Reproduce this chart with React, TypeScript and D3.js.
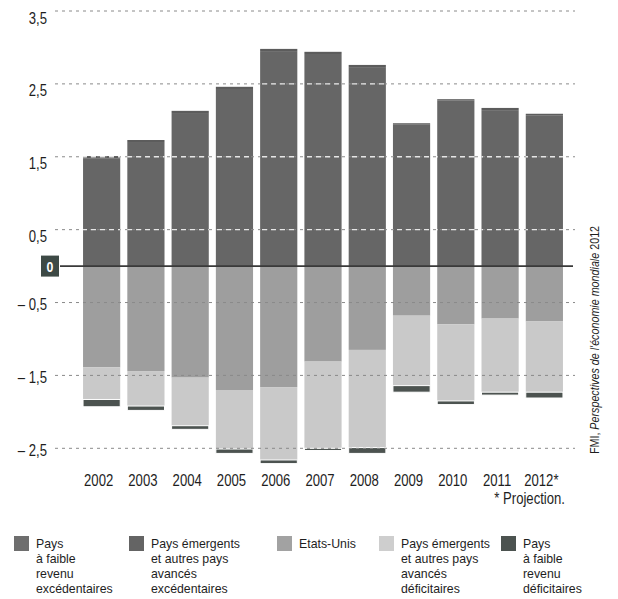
import React from "react";
import * as d3 from "d3";

const years = ["2002", "2003", "2004", "2005", "2006", "2007", "2008", "2009", "2010", "2011", "2012*"];
// Positive side (stacked upward from 0)
const emergentsExcedentaires = [1.48, 1.69, 2.10, 2.43, 2.95, 2.91, 2.72, 1.94, 2.27, 2.14, 2.07];
const faibleRevenuExcedentaires = [0.03, 0.04, 0.03, 0.03, 0.03, 0.03, 0.04, 0.02, 0.02, 0.03, 0.02];
// Negative side (stacked downward from 0)
const etatsUnis = [-1.39, -1.44, -1.53, -1.70, -1.66, -1.31, -1.15, -0.68, -0.80, -0.72, -0.76];
const emergentsDeficitaires = [-0.44, -0.48, -0.66, -0.81, -1.00, -1.19, -1.34, -0.96, -1.05, -1.01, -0.97];
const faibleRevenuDeficitaires = [-0.10, -0.06, -0.05, -0.06, -0.05, -0.03, -0.08, -0.09, -0.05, -0.04, -0.08];

const tickValues = [3.5, 2.5, 1.5, 0.5, -0.5, -1.5, -2.5];
const tickLabels = ["3,5", "2,5", "1,5", "0,5", "– 0,5", "– 1,5", "– 2,5"];

const legendItems = [
  { lines: ["Pays", "à faible", "revenu", "excédentaires"], color: "#6e6e6e" },
  { lines: ["Pays émergents", "et autres pays", "avancés", "excédentaires"], color: "#646464" },
  { lines: ["Etats-Unis"], color: "#a2a2a2" },
  { lines: ["Pays émergents", "et autres pays", "avancés", "déficitaires"], color: "#cecece" },
  { lines: ["Pays", "à faible", "revenu", "déficitaires"], color: "#4c5350" },
];

const FONT = "'Liberation Sans', Arial, sans-serif";

function CText({ x, y, size, anchor = "start", children, fill = "#1e1e1e", weight = "normal", sx = 0.82 }: any) {
  return (
    <text transform={`translate(${x},${y}) scale(${sx},1)`} textAnchor={anchor} fontSize={size} fill={fill} fontWeight={weight}>
      {children}
    </text>
  );
}

export default function App() {
  const W = 618, H = 599;
  const x = d3.scaleBand<string>().domain(years).range([79.5, 566.5]).paddingInner(0.16).paddingOuter(0.08);
  const y = d3.scaleLinear().domain([-2.5, 3.5]).range([448.3, 11]);
  const bw = x.bandwidth();

  const posSeries = [
    { values: emergentsExcedentaires, color: "#666666" },
    { values: faibleRevenuExcedentaires, color: "#5c5c5c" },
  ];
  const negSeries = [
    { values: etatsUnis, color: "#9e9e9e" },
    { values: emergentsDeficitaires, color: "#c9c9c9" },
    { values: faibleRevenuDeficitaires, color: "#4c5350" },
  ];

  const rects: any[] = [];
  years.forEach((yr, i) => {
    let acc = 0;
    posSeries.forEach((s, k) => {
      const v0 = acc, v1 = acc + s.values[i];
      acc = v1;
      rects.push({ key: `p${i}-${k}`, x: x(yr)!, y: y(v1), h: y(v0) - y(v1), color: s.color, pos: true });
    });
    acc = 0;
    negSeries.forEach((s, k) => {
      const v0 = acc, v1 = acc + s.values[i];
      acc = v1;
      rects.push({ key: `n${i}-${k}`, x: x(yr)!, y: y(v0), h: y(v1) - y(v0), color: s.color, pos: false, sep: k === 2 });
    });
  });

  const gx0 = 55, gx1 = 575;

  return (
    <svg width={W} height={H} style={{ position: "absolute", left: 0, top: 0, background: "#fff" }} fontFamily={FONT}>
      <defs>
        <clipPath id="posclip">
          {rects.filter(r => r.pos).map(r => (
            <rect key={r.key} x={r.x} y={r.y} width={bw} height={r.h} />
          ))}
        </clipPath>
      </defs>
      {rects.map(r => (
        <rect key={r.key} x={r.x} y={r.y} width={bw} height={r.h} fill={r.color}
          stroke={r.sep ? "#fff" : "none"} strokeWidth={r.sep ? 1 : 0} />
      ))}
      {/* grid lines */}
      {tickValues.map(v => (
        <line key={"g" + v} x1={gx0} x2={gx1} y1={y(v)} y2={y(v)} stroke="#8a8a8a" strokeWidth={1} strokeDasharray="3,4" />
      ))}
      <g clipPath="url(#posclip)">
        {tickValues.map(v => (
          <line key={"gw" + v} x1={gx0} x2={gx1} y1={y(v)} y2={y(v)} stroke="#e6e6e6" strokeWidth={1.3} strokeDasharray="5,4" />
        ))}
      </g>
      {/* zero line */}
      <line x1={60} x2={573} y1={y(0)} y2={y(0)} stroke="#3a3a3a" strokeWidth={1.6} />
      <rect x={41} y={y(0) - 10.5} width={18} height={21} fill="#3d4945" />
      <CText x={50} y={y(0) + 5.5} size={15} anchor="middle" fill="#fff" weight="bold">0</CText>
      {/* y tick labels */}
      {tickValues.map((v, i) => (
        <CText key={"t" + v} x={47} y={y(v) + (v > 0 ? 12.5 : 7.5)} anchor="end" size={16}>{tickLabels[i]}</CText>
      ))}
      {/* x labels */}
      {years.map(yr => (
        <CText key={"x" + yr} x={x(yr)! + bw / 2 - 3} y={486} anchor="middle" size={16}>{yr}</CText>
      ))}
      <CText x={565} y={504} anchor="end" size={16}>* Projection.</CText>
      {/* source */}
      <text transform={`translate(599,340) rotate(-90) scale(0.86,1)`} textAnchor="middle" fontSize={12.5} fill="#1e1e1e">
        FMI, <tspan fontStyle="italic">Perspectives de l'économie mondiale</tspan> 2012
      </text>
      {/* legend */}
      {legendItems.map((it, i) => {
        const sx = [14, 129, 277, 379, 501][i];
        return (
          <g key={"l" + i}>
            <rect x={sx} y={536} width={15} height={15} fill={it.color} />
            {it.lines.map((ln, j) => (
              <CText key={j} x={sx + 22} y={548 + j * 15} size={13.4} sx={0.92}>{ln}</CText>
            ))}
          </g>
        );
      })}
    </svg>
  );
}
